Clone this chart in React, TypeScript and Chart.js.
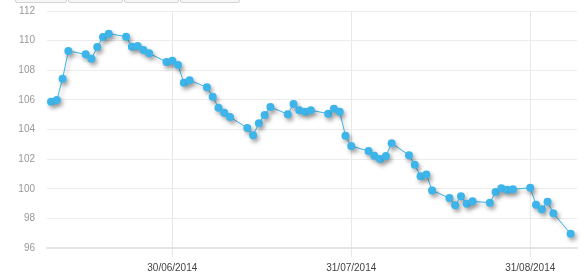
import React, { useEffect, useRef } from "react";
import { Chart, registerables } from "chart.js";

Chart.register(...registerables);

const dates: string[] = [
  "2014-06-09", "2014-06-10", "2014-06-11", "2014-06-12", "2014-06-15", "2014-06-16",
  "2014-06-17", "2014-06-18", "2014-06-19", "2014-06-22", "2014-06-23", "2014-06-24",
  "2014-06-25", "2014-06-26", "2014-06-29", "2014-06-30", "2014-07-01", "2014-07-02",
  "2014-07-03", "2014-07-06", "2014-07-07", "2014-07-08", "2014-07-09", "2014-07-10",
  "2014-07-13", "2014-07-14", "2014-07-15", "2014-07-16", "2014-07-17", "2014-07-20",
  "2014-07-21", "2014-07-22", "2014-07-23", "2014-07-24", "2014-07-27", "2014-07-28",
  "2014-07-29", "2014-07-30", "2014-07-31", "2014-08-03", "2014-08-04", "2014-08-05",
  "2014-08-06", "2014-08-07", "2014-08-10", "2014-08-11", "2014-08-12", "2014-08-13",
  "2014-08-14", "2014-08-17", "2014-08-18", "2014-08-19", "2014-08-20", "2014-08-21",
  "2014-08-24", "2014-08-25", "2014-08-26", "2014-08-27", "2014-08-28", "2014-08-31",
  "2014-09-01", "2014-09-02", "2014-09-03", "2014-09-04", "2014-09-07",
];

const values: number[] = [
  105.88, 105.99, 107.43, 109.3, 109.08, 108.78,
  109.57, 110.24, 110.47, 110.27, 109.59, 109.64,
  109.37, 109.14, 108.56, 108.64, 108.35, 107.15,
  107.32, 106.85, 106.21, 105.47, 105.13, 104.84,
  104.1, 103.61, 104.42, 104.98, 105.52, 105.03,
  105.72, 105.3, 105.2, 105.3, 105.07, 105.4,
  105.2, 103.57, 102.88, 102.55, 102.23, 102.01,
  102.21, 103.07, 102.26, 101.62, 100.84, 100.97,
  99.89, 99.37, 98.88, 99.49, 98.99, 99.15,
  99.06, 99.78, 100.03, 99.93, 99.96, 100.07,
  98.92, 98.61, 99.12, 98.34, 96.96,
];

const xTickDates: string[] = ["2014-06-30", "2014-07-31", "2014-08-31"];
const xRangeStart = "2014-06-08";
const xRangeEnd = "2014-09-08";

const DAY = 86400000;
const toTs = (d: string) => {
  const [y, m, dd] = d.split("-").map(Number);
  return Date.UTC(y, m - 1, dd);
};
const fmt = (ts: number) => {
  const d = new Date(ts);
  const p = (n: number) => String(n).padStart(2, "0");
  return `${p(d.getUTCDate())}/${p(d.getUTCMonth() + 1)}/${d.getUTCFullYear()}`;
};

const shadowPlugin = {
  id: "shadowPlugin",
  beforeDatasetsDraw(chart: any) {
    const ctx = chart.ctx;
    ctx.save();
    ctx.shadowColor = "rgba(0,0,0,0.35)";
    ctx.shadowBlur = 4;
    ctx.shadowOffsetX = 2;
    ctx.shadowOffsetY = 3;
  },
  afterDatasetsDraw(chart: any) {
    chart.ctx.restore();
  },
};

export default function App() {
  const ref = useRef<HTMLCanvasElement | null>(null);

  useEffect(() => {
    document.body.style.margin = "0";
    if (!ref.current) return;
    const data = dates.map((d, i) => ({ x: toTs(d), y: values[i] }));
    const chart = new Chart(ref.current, {
      type: "line",
      data: {
        datasets: [
          {
            data,
            borderColor: "#3db5ea",
            backgroundColor: "#3db5ea",
            borderWidth: 1,
            pointRadius: 4,
            pointBorderWidth: 0,
            pointBackgroundColor: "#3db5ea",
            tension: 0,
            clip: false,
          },
        ],
      },
      options: {
        animation: false,
        responsive: false,
        maintainAspectRatio: false,
        layout: { autoPadding: false, padding: { top: 11, right: 8, left: 0, bottom: 0 } },
        plugins: { legend: { display: false }, tooltip: { enabled: false } },
        scales: {
          x: {
            type: "linear",
            min: toTs(xRangeStart) + 0.3 * DAY,
            max: toTs(xRangeEnd) + 0.1 * DAY,
            afterBuildTicks: (scale: any) => {
              scale.ticks = xTickDates.map((d) => ({ value: toTs(d) }));
            },
            afterFit: (scale: any) => {
              scale.height = 32;
              scale.paddingLeft = 0;
              scale.paddingRight = 0;
            },
            grid: { color: "#e8e8e8", lineWidth: 1, tickLength: 9, drawTicks: true },
            border: { display: true, color: "#e4e4e4", width: 2 },
            ticks: {
              autoSkip: false,
              maxRotation: 0,
              padding: 5,
              color: "#444",
              font: { family: "'Liberation Sans', Arial, sans-serif", size: 10 },
              callback: (v: any) => fmt(Number(v)),
            },
          },
          y: {
            min: 96,
            max: 112,
            afterFit: (scale: any) => {
              scale.width = 47;
              scale.paddingTop = 0;
              scale.paddingBottom = 0;
            },
            grid: { color: "#ececec", lineWidth: 1, drawTicks: false },
            border: { display: false },
            ticks: {
              stepSize: 2,
              padding: 12,
              color: "#999",
              font: { family: "'Liberation Sans', Arial, sans-serif", size: 10 },
            },
          },
        },
      },
      plugins: [shadowPlugin],
    } as any);
    return () => chart.destroy();
  }, []);

  const boxes = [
    [15, 52],
    [68, 55],
    [124, 55],
    [180, 60],
  ];

  return (
    <div style={{ position: "relative", width: 585, height: 280, background: "#fff", overflow: "hidden" }}>
      <canvas ref={ref} width={585} height={280} style={{ position: "absolute", left: 0, top: 0 }} />
      {boxes.map(([l, w], i) => (
        <div
          key={i}
          style={{
            position: "absolute",
            left: l,
            top: -10,
            width: w - 2,
            height: 11,
            border: "1px solid #d4d4d4",
            background: "#f6f6f6",
            borderRadius: 2,
          }}
        />
      ))}
    </div>
  );
}
